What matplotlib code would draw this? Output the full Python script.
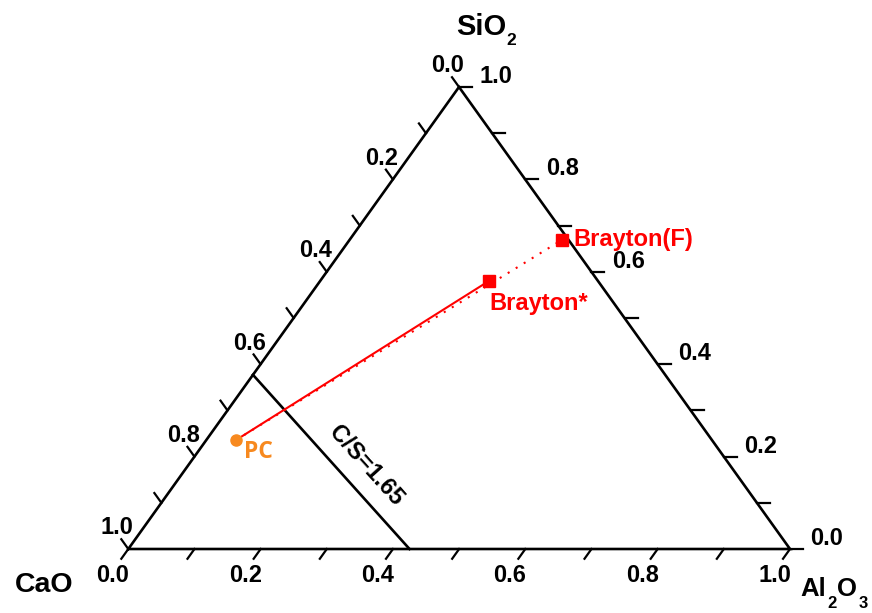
import matplotlib.pyplot as plt
import numpy as np

plt.rcParams["font.family"] = ["Liberation Sans", "DejaVu Sans"]

# compositions (mass fractions): CaO, Al2O3, SiO2
names = ["PC", "Brayton*", "Brayton(F)"]
cao = [0.719, 0.165, 0.010]
al2o3 = [0.045, 0.255, 0.321]
sio2 = [0.236, 0.580, 0.669]

# C/S = 1.65 line end points (CaO, Al2O3, SiO2)
cs_cao = [0.623, 0.575]
cs_al2o3 = [0.0, 0.425]
cs_sio2 = [0.377, 0.0]

tick_vals = np.round(np.arange(0, 1.01, 0.1), 1)
label_vals = [0.0, 0.2, 0.4, 0.6, 0.8, 1.0]

# triangle corners in figure pixels (CaO, Al2O3, SiO2)
A = np.array([128.3, 549.0])
B = np.array([790.0, 549.0])
C = np.array([459.0, 87.0])


def to_xy(c, a, s):
    c, a, s = np.asarray(c), np.asarray(a), np.asarray(s)
    x = c * A[0] + a * B[0] + s * C[0]
    y = c * A[1] + a * B[1] + s * C[1]
    return x, y


fig = plt.figure(figsize=(8.72, 6.13), dpi=100)
ax = fig.add_axes([0, 0, 1, 1])
ax.set_xlim(0, 872)
ax.set_ylim(613, 0)
ax.axis("off")

# triangle
tx, ty = to_xy([1, 0, 0, 1], [0, 1, 0, 0], [0, 0, 1, 0])
ax.plot(tx, ty, color="black", lw=1.9, solid_joinstyle="miter", zorder=2)

tick_len = 12
d_left = (C - B) / np.linalg.norm(C - B)
d_bottom = (A - C) / np.linalg.norm(A - C)

for v in tick_vals:
    # left: CaO
    x0, y0 = to_xy(v, 0, 1 - v)
    ax.plot([x0, x0 + d_left[0] * tick_len], [y0, y0 + d_left[1] * tick_len], color="black", lw=1.6)
    # right: SiO2
    x1, y1 = to_xy(0, 1 - v, v)
    ax.plot([x1, x1 + 13], [y1, y1], color="black", lw=1.6)
    # bottom: Al2O3
    x2, y2 = to_xy(1 - v, v, 0)
    ax.plot([x2, x2 + d_bottom[0] * tick_len], [y2, y2 + d_bottom[1] * tick_len], color="black", lw=1.6)

lab_kw = dict(fontsize=17, fontweight="bold", ha="center", va="center")
for v in label_vals:
    x0, y0 = to_xy(v, 0, 1 - v)
    ax.text(x0 - 11, y0 - 21, f"{v:.1f}", **lab_kw)
    x1, y1 = to_xy(0, 1 - v, v)
    ax.text(x1 + 37, y1 - 10.5, f"{v:.1f}", **lab_kw)
    x2, y2 = to_xy(1 - v, v, 0)
    ax.text(x2 - 15.5, y2 + 26, f"{v:.1f}", **lab_kw)

# axis titles (subscripts drawn as separate smaller texts)
t_kw = dict(fontweight="bold", ha="left", va="baseline")
ax.text(456, 35, "SiO", fontsize=21, **t_kw)
ax.text(506, 45, "2", fontsize=12.5, **t_kw)
ax.text(15, 592, "CaO", fontsize=20.5, **t_kw)
ax.text(800, 596, "Al", fontsize=18.5, **t_kw)
ax.text(827, 608, "2", fontsize=12, **t_kw)
ax.text(837, 596, "O", fontsize=18.5, **t_kw)
ax.text(859, 608, "3", fontsize=12, **t_kw)

# C/S line
lx, ly = to_xy(cs_cao, cs_al2o3, cs_sio2)
ax.plot(lx, ly, color="black", lw=1.9)
ang = np.degrees(np.arctan2(ly[1] - ly[0], lx[1] - lx[0]))
ax.text(366, 466, "C/S=1.65", fontsize=17, fontweight="bold", rotation=-ang,
        rotation_mode="anchor", ha="center", va="center")

# composition points
px, py = to_xy(cao, al2o3, sio2)
ax.plot([px[0], px[2]], [py[0], py[2]], color="red", lw=1.5, linestyle=(0, (1, 3.5)), zorder=3)
ax.plot([px[0], px[1]], [py[0], py[1]], color="red", lw=1.5, zorder=3)
ax.plot(px[0], py[0], "o", color="#F7891F", ms=8, zorder=4)
ax.plot(px[1:], py[1:], "s", color="red", ms=8, zorder=4)

ax.text(px[0] + 8, py[0] + 12, names[0], color="#F7891F", fontsize=16.5, fontweight="bold",
        family=["Open Sans", "DejaVu Sans"], ha="left", va="center")
ax.text(px[1] + 1, py[1] + 22, names[1], color="red", fontsize=17, fontweight="bold",
        ha="left", va="center")
ax.text(px[2] + 11, py[2], names[2], color="red", fontsize=17, fontweight="bold",
        ha="left", va="center")

fig.savefig("out.png", dpi=100)
